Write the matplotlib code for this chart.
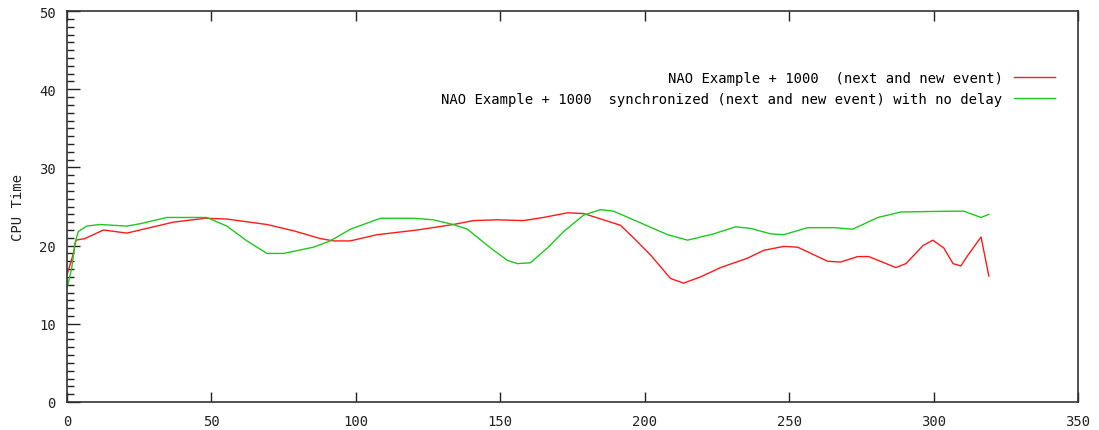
import matplotlib
matplotlib.use("Agg")
import matplotlib.pyplot as plt
from matplotlib.ticker import MultipleLocator

# CPU time per step for the two NAO runs
red_x = [0, 1.0, 2.2, 3.1, 6.2, 12.6, 20.7, 29.9, 36.8, 47.8, 55.3, 69.2, 78.4,
         87.7, 92.3, 98.0, 107.4, 121.3, 133.7, 140.7, 149.0, 158.0, 164.9,
         173.3, 178.8, 185.7, 191.6, 196.1, 202.0, 208.9, 213.4, 219.3, 226.3,
         235.6, 241.2, 248.1, 252.9, 263.3, 267.8, 273.7, 277.5, 286.9, 290.4,
         296.3, 299.7, 303.5, 306.7, 309.4, 311.9, 316.4, 319.1]
red_y = [16.3, 17.5, 19.0, 20.7, 20.9, 22.0, 21.6, 22.4, 23.0, 23.5, 23.4, 22.7,
         21.9, 20.9, 20.6, 20.6, 21.4, 22.0, 22.7, 23.2, 23.3, 23.2, 23.6, 24.2,
         24.1, 23.3, 22.6, 21.0, 18.8, 15.8, 15.2, 16.0, 17.2, 18.4, 19.4, 19.9,
         19.8, 18.0, 17.9, 18.6, 18.6, 17.2, 17.7, 20.0, 20.7, 19.7, 17.7, 17.4,
         18.8, 21.1, 16.1]

green_x = [0.1, 1.6, 2.8, 3.9, 6.8, 11.4, 20.7, 25.3, 34.5, 48.4, 55.3, 62.3,
           69.2, 75.0, 85.3, 91.1, 98.1, 108.5, 119.9, 126.8, 133.7, 138.6,
           146.6, 152.5, 155.9, 160.4, 166.3, 171.9, 178.8, 184.7, 189.2, 196.1,
           207.9, 214.8, 223.8, 231.4, 236.7, 243.6, 248.1, 256.4, 265.4, 272.0,
           280.7, 288.6, 304.9, 310.5, 316.4, 319.1]
green_y = [14.7, 17.1, 20.4, 21.8, 22.5, 22.7, 22.5, 22.8, 23.6, 23.6, 22.5, 20.6,
           19.0, 19.0, 19.8, 20.6, 22.1, 23.5, 23.5, 23.3, 22.7, 22.1, 19.7, 18.1,
           17.7, 17.8, 19.7, 21.8, 23.9, 24.6, 24.4, 23.3, 21.4, 20.7, 21.5, 22.4,
           22.2, 21.5, 21.4, 22.3, 22.3, 22.1, 23.6, 24.3, 24.4, 24.4, 23.6, 24.0]

red_label = "NAO Example + 1000  (next and new event)"
green_label = "NAO Example + 1000  synchronized (next and new event) with no delay"
y_title = "CPU Time"

FONT = "DejaVu Sans Mono"
plt.rcParams["font.family"] = FONT
plt.rcParams["font.size"] = 10

fig = plt.figure(figsize=(10.99, 4.31), dpi=100)
ax = fig.add_axes([0.061, 0.065, 0.92, 0.907])

ax.plot(red_x, red_y, color="#ff1a1a", lw=1.0, label=red_label)
ax.plot(green_x, green_y, color="#1ec81e", lw=1.0, label=green_label)

ax.set_xlim(0, 350)
ax.set_ylim(0, 50)
ax.xaxis.set_major_locator(MultipleLocator(50))
ax.yaxis.set_major_locator(MultipleLocator(10))
ax.yaxis.set_minor_locator(MultipleLocator(1))

ax.tick_params(axis="x", which="major", direction="in", length=7, width=1,
               top=True, bottom=True, pad=9, colors="#222222",
               labelcolor="#222222")
ax.tick_params(axis="y", which="major", direction="in", length=9, width=1,
               left=True, right=False, pad=8, colors="#222222",
               labelcolor="#222222")
ax.tick_params(axis="y", which="minor", direction="in", length=5, width=1,
               left=True, right=False, colors="#222222")
ax.tick_params(axis="x", which="minor", bottom=False, top=False)

for sp in ax.spines.values():
    sp.set_linewidth(1.2)
    sp.set_color("#333333")

ax.set_ylabel(y_title, labelpad=10, color="#222222")

ax.legend(loc="upper right", bbox_to_anchor=(0.983, 0.86), frameon=False,
          markerfirst=False, handlelength=3.0, handletextpad=0.8,
          labelspacing=0.5, borderaxespad=0)

fig.savefig("out.png", dpi=100)
